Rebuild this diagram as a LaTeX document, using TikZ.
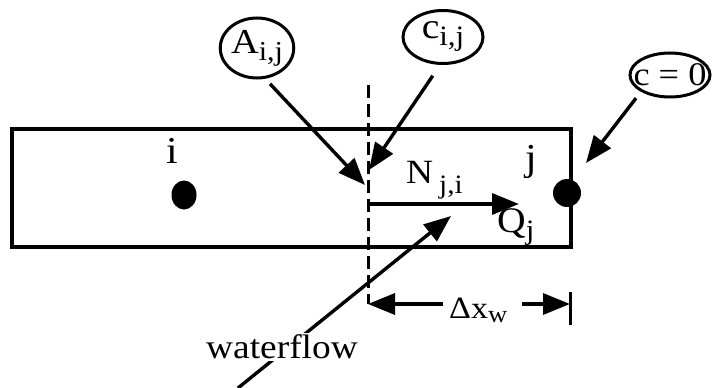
\documentclass[tikz,border=0pt]{standalone}
\usepackage{fontspec}
\setmainfont[FakeStretch=1.1]{Liberation Serif}
\usetikzlibrary{arrows.meta,shapes.geometric}
\newcommand{\sub}[2][6pt]{\raisebox{-#1}{\scalebox{0.78}{#2}}}

\begin{document}
\begin{tikzpicture}[
  x=1pt,y=-1pt,
  txt/.style={inner sep=0pt,font=\fontsize{38}{42}\selectfont},
  bubble/.style={draw,ellipse,line width=3pt,inner sep=0pt},
  dot/.style={fill,ellipse,inner sep=0pt},
  cell/.style={draw,line width=3.4pt,inner sep=0pt},
  pointer/.style={-{Triangle[length=27pt,width=21pt]},line width=3.4pt},
  divider/.style={line width=3pt,dash pattern=on 13pt off 6pt},
  tick/.style={line width=3pt}
]
\useasboundingbox (0,0) rectangle (716,388);

% the two cells
\node[cell,minimum width=559pt,minimum height=118pt] (strip) at (291.5,188) {};
\node[dot,minimum width=25pt,minimum height=29pt] (ni) at (184,195) {};
\node[dot,minimum size=28pt] (nj) at (567,193) {};
\node[txt,anchor=base] (li) at (172,163) {i};
\node[txt,anchor=base] (lj) at (531,170) {j};

% cell face and dimension
\coordinate (dtop) at (368,85);
\coordinate (dbot) at (368,304);
\draw[divider] (dtop) -- (dbot);
\coordinate (dimL) at (368,304);
\coordinate (dimLin) at (443,304);
\coordinate (dimR) at (570,304);
\coordinate (dimRin) at (522,304);
\coordinate (tickT) at (570,292);
\coordinate (tickB) at (570,325);
\draw[tick] (tickT) -- (tickB);
\draw[pointer] (dimLin) -- (dimL);
\draw[pointer] (dimRin) -- (dimR);
\node[txt,anchor=base west,font=\fontsize{31}{35}\selectfont] (dx) at (449,318) {Δx\sub[4pt]{w}};

% flux across the face
\coordinate (qbase) at (368,204);
\coordinate (qtip) at (519,204);
\draw[pointer] (qbase) -- (qtip);
\node[txt,anchor=base west,font=\fontsize{34}{38}\selectfont] (nji) at (406,183) {N\hspace{6pt}\sub[10pt]{j,i}};
\node[txt,anchor=base west,font=\fontsize{36}{40}\selectfont] (qj) at (497,232) {Q\sub[7pt]{j}};

% callouts
\node[bubble,minimum width=73pt,minimum height=60pt,font=\fontsize{35}{39}\selectfont] (aij) at (257,48) {A\sub[7pt]{i,j}};
\node[bubble,minimum width=80pt,minimum height=53pt,font=\fontsize{36}{40}\selectfont] (cij) at (443,37) {c\sub[7pt]{i,j}};
\node[bubble,inner xsep=-14pt,inner ysep=-8pt,minimum width=80pt,minimum height=44pt,font=\fontsize{33}{37}\selectfont] (cz) at (670,75) {c = 0};
\coordinate (atip) at (365,185);
\coordinate (ctip) at (369,170);
\coordinate (ztip) at (586,163);
\draw[pointer,shorten <=7pt] (aij.-75) -- (atip);
\draw[pointer,shorten <=13pt] (cij.-96) -- (ctip);
\draw[pointer,shorten <=8pt] (cz.-150) -- (ztip);

% water flow
\coordinate (wfbase) at (238,388);
\coordinate (wftip) at (451,216);
\draw[pointer] (wfbase) -- (wftip);
\node[txt,fill=white,inner sep=2pt,font=\fontsize{34}{38}\selectfont] (wf) at (282,347) {waterflow};
\end{tikzpicture}
\end{document}
